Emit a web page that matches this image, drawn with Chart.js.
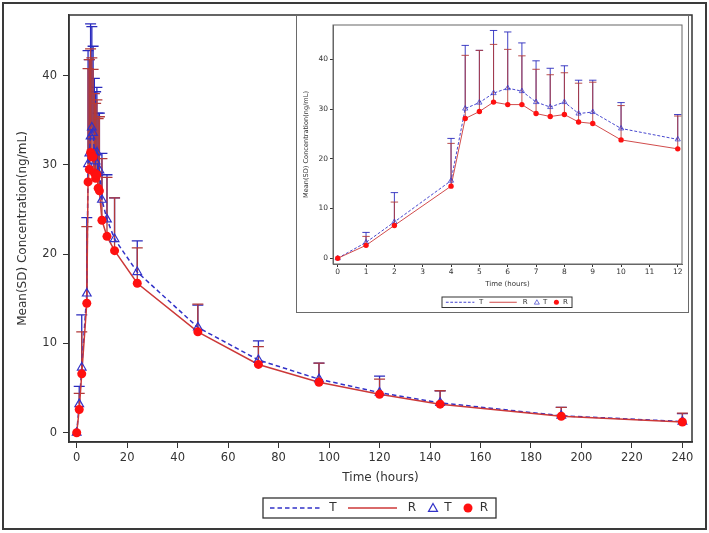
<!DOCTYPE html>
<html>
<head>
<meta charset="utf-8">
<script src="https://cdn.jsdelivr.net/npm/chart.js@4.4.0/dist/chart.umd.min.js"></script>
<style>
html, body { margin: 0; padding: 0; background: #fff; }
#wrap { position: relative; width: 709px; height: 533px; }
#frame { position: absolute; left: 2px; top: 2px; width: 701px; height: 524px; border: 2px solid #3a3a3a; }
#main { position: absolute; left: 0; top: 0; }
#insetBox { position: absolute; left: 296px; top: 15px; width: 391px; height: 296px; border: 1px solid #6a6a6a; background: #fff; }
#inset { position: absolute; left: 0; top: 0; }
</style>
</head>
<body>
<div id="wrap">
  <div id="frame"></div>
  <canvas id="main" width="709" height="533"></canvas>
  <div id="insetBox"><canvas id="inset" width="391" height="296"></canvas></div>
</div>
<script>
// time points (hours)
const times = [0, 1, 2, 4, 4.5, 5, 5.5, 6, 6.5, 7, 7.5, 8, 8.5, 9, 10, 12, 15, 24, 48, 72, 96, 120, 144, 192, 240];
// T: mean and SD (ng/mL)
const tMean = [0, 3.2, 7.3, 15.6, 30.1, 31.3, 33.2, 34.2, 33.6, 31.4, 30.4, 31.4, 29.1, 29.4, 26.1, 23.9, 21.7, 18.0, 11.8, 8.15, 6.0, 4.5, 3.35, 1.9, 1.25];
const tSD   = [0, 2.0, 5.9, 8.5, 12.7, 10.5, 12.6, 11.3, 9.7, 8.3, 7.8, 7.3, 6.7, 6.4, 5.2, 5.0, 4.6, 3.5, 2.5, 2.15, 1.8, 1.85, 1.35, 0.95, 0.9];
// R: mean and SD (ng/mL)
const rMean = [0, 2.6, 6.6, 14.5, 28.1, 29.5, 31.4, 30.9, 30.9, 29.1, 28.5, 28.9, 27.4, 27.1, 23.8, 22.0, 20.4, 16.75, 11.3, 7.65, 5.65, 4.3, 3.2, 1.85, 1.2];
const rSD   = [0, 1.8, 4.7, 8.6, 12.7, 12.3, 11.6, 11.1, 9.8, 8.9, 8.4, 8.4, 7.8, 8.3, 6.9, 6.6, 5.9, 3.95, 3.1, 2.0, 2.15, 1.7, 1.5, 1.0, 1.0];

const yTicks = [0, 10, 20, 30, 40];
const mainXTicks = [0, 20, 40, 60, 80, 100, 120, 140, 160, 180, 200, 220, 240];
const insetXTicks = [0, 1, 2, 3, 4, 5, 6, 7, 8, 9, 10, 11, 12];

const T_COLOR = '#3232c8';
const T_ERR = '#2a2abd';
const R_LINE = '#cc3838';
const R_ERR = '#b23a3a';
const R_DOT = '#ff1010';
const FONT = '"DejaVu Sans", sans-serif';

function pts(xs, ys) { return xs.map((x, i) => ({ x: x, y: ys[i] })); }

function makeDatasets(n, s) {
  const xs = times.slice(0, n);
  return [
    { label: 'R', data: pts(xs, rMean.slice(0, n)), showLine: false, order: 0,
      pointStyle: 'circle', pointRadius: 4.5 * s, backgroundColor: R_DOT, borderColor: R_DOT, borderWidth: 0 },
    { label: 'T', data: pts(xs, tMean.slice(0, n)), showLine: false, order: 1,
      pointStyle: 'triangle', pointRadius: 5 * s, backgroundColor: 'rgba(0,0,0,0)', borderColor: T_COLOR, borderWidth: 1.2 * s },
    { label: 'R', data: pts(xs, rMean.slice(0, n)), showLine: true, order: 2, pointRadius: 0,
      borderColor: R_LINE, borderWidth: 1.5 * s },
    { label: 'T', data: pts(xs, tMean.slice(0, n)), showLine: true, order: 3, pointRadius: 0,
      borderColor: T_COLOR, borderWidth: 1.5 * s, borderDash: [4 * s + 0.5, 3 * s] }
  ];
}

// error bars (mean to mean + SD) drawn through the chart scales
function errorBars(n, cap, lw) {
  return {
    id: 'errorBars',
    beforeDatasetsDraw(chart) {
      const ctx = chart.ctx, xs = chart.scales.x, ys = chart.scales.y;
      const series = [[tMean, tSD, T_ERR], [rMean, rSD, R_ERR]];
      ctx.save();
      ctx.lineWidth = lw;
      series.forEach(([m, sd, col]) => {
        ctx.strokeStyle = col;
        for (let i = 0; i < n; i++) {
          if (!sd[i]) continue;
          const x = xs.getPixelForValue(times[i]);
          const y0 = ys.getPixelForValue(m[i]);
          const y1 = ys.getPixelForValue(m[i] + sd[i]);
          ctx.beginPath();
          ctx.moveTo(x, y0); ctx.lineTo(x, y1);
          ctx.moveTo(x - cap, y1); ctx.lineTo(x + cap, y1);
          ctx.stroke();
        }
      });
      ctx.restore();
    }
  };
}

function drawLegend(ctx, x0, y0, s, h, fontPx) {
  ctx.save();
  ctx.strokeStyle = '#333';
  ctx.lineWidth = s < 1 ? 1 : 1.3;
  ctx.strokeRect(x0, y0, 233 * s, h);
  const cy = y0 + h / 2;
  ctx.font = fontPx + 'px ' + FONT;
  ctx.fillStyle = '#333';
  ctx.textAlign = 'center';
  ctx.textBaseline = 'middle';
  // dashed T line
  ctx.strokeStyle = T_COLOR; ctx.lineWidth = 1.3 * s + 0.2;
  ctx.setLineDash([4 * s + 0.5, 3 * s]);
  ctx.beginPath(); ctx.moveTo(x0 + 7 * s, cy); ctx.lineTo(x0 + 58 * s, cy); ctx.stroke();
  ctx.setLineDash([]);
  ctx.fillText('T', x0 + 70 * s, cy);
  // solid R line
  ctx.strokeStyle = R_LINE;
  ctx.beginPath(); ctx.moveTo(x0 + 85 * s, cy); ctx.lineTo(x0 + 134 * s, cy); ctx.stroke();
  ctx.fillText('R', x0 + 149 * s, cy);
  // triangle
  const tr = 4.5 * s, tx = x0 + 170 * s;
  ctx.strokeStyle = T_COLOR; ctx.lineWidth = 1.2 * s;
  ctx.beginPath();
  ctx.moveTo(tx, cy - tr); ctx.lineTo(tx + tr, cy + tr * 0.75); ctx.lineTo(tx - tr, cy + tr * 0.75); ctx.closePath();
  ctx.stroke();
  ctx.fillText('T', x0 + 185 * s, cy);
  // circle
  ctx.fillStyle = R_DOT;
  ctx.beginPath(); ctx.arc(x0 + 205 * s, cy, 4.5 * s, 0, Math.PI * 2); ctx.fill();
  ctx.fillStyle = '#333';
  ctx.fillText('R', x0 + 221 * s, cy);
  ctx.restore();
}

function frameAndLegend(lx, ly, s, h, fontPx, frameColor, frameWidth) {
  return {
    id: 'frameAndLegend',
    afterDraw(chart) {
      const ctx = chart.ctx, a = chart.chartArea;
      ctx.save();
      ctx.strokeStyle = frameColor;
      ctx.lineWidth = frameWidth;
      ctx.strokeRect(a.left, a.top, a.right - a.left, a.bottom - a.top);
      ctx.restore();
      drawLegend(ctx, lx, ly, s, h, fontPx);
    }
  };
}

function axisOpts(o) {
  return {
    type: 'linear',
    min: o.min, max: o.max,
    afterBuildTicks: (sc) => { sc.ticks = o.ticks.map(v => ({ value: v })); },
    afterFit: (sc) => { if (o.width) sc.width = o.width; if (o.height) sc.height = o.height; },
    border: { display: true, color: o.frame, width: o.fw },
    grid: { display: true, drawOnChartArea: false, drawTicks: true, tickLength: o.tl, tickColor: '#333', tickWidth: 1 },
    ticks: { color: '#333', font: { family: FONT, size: o.tick }, padding: o.pad, maxRotation: 0, autoSkip: false,
      callback: (v) => String(v) },
    title: { display: true, text: o.title, color: '#333', font: { family: FONT, size: o.tsize }, padding: { top: o.tpad, bottom: o.tpad } }
  };
}

new Chart(document.getElementById('main'), {
  type: 'scatter',
  data: { datasets: makeDatasets(times.length, 1) },
  options: {
    responsive: false, animation: false, devicePixelRatio: 1,
    layout: { padding: { left: 12, top: 15, right: 17, bottom: 43.8 } },
    plugins: { legend: { display: false }, tooltip: { enabled: false } },
    scales: {
      x: axisOpts({ min: -3.05, max: 243.8, ticks: mainXTicks, height: 47.2, frame: '#333', fw: 1.5,
        tl: 6, tick: 11.5, pad: 3, title: 'Time (hours)', tsize: 12, tpad: 4 }),
      y: axisOpts({ min: -1.04, max: 46.8, ticks: yTicks, width: 57, frame: '#333', fw: 1.5,
        tl: 6, tick: 11.5, pad: 6, title: 'Mean(SD) Concentration(ng/mL)', tsize: 12, tpad: 4 })
    }
  },
  plugins: [errorBars(times.length, 5.5, 1.3), frameAndLegend(263, 498, 1, 20, 12, '#333', 1.5)]
});

const nInset = times.filter(t => t <= 12).length;
new Chart(document.getElementById('inset'), {
  type: 'scatter',
  data: { datasets: makeDatasets(nInset, 0.6) },
  options: {
    responsive: false, animation: false, devicePixelRatio: 1,
    layout: { padding: { left: 4, top: 9, right: 6, bottom: 22.5 } },
    plugins: { legend: { display: false }, tooltip: { enabled: false } },
    scales: {
      x: axisOpts({ min: -0.166, max: 12.15, ticks: insetXTicks, height: 25.5, frame: '#666', fw: 1,
        tl: 3, tick: 7.5, pad: 1, title: 'Time (hours)', tsize: 7, tpad: 1 }),
      y: axisOpts({ min: -1.15, max: 46.9, ticks: yTicks, width: 32, frame: '#666', fw: 1,
        tl: 3, tick: 7.5, pad: 2, title: 'Mean(SD) Concentration(ng/mL)', tsize: 6.6, tpad: 1 })
    }
  },
  plugins: [errorBars(nInset, 3.7, 0.9), frameAndLegend(145, 281, 0.558, 10.5, 7, '#666', 1)]
});
</script>
</body>
</html>
